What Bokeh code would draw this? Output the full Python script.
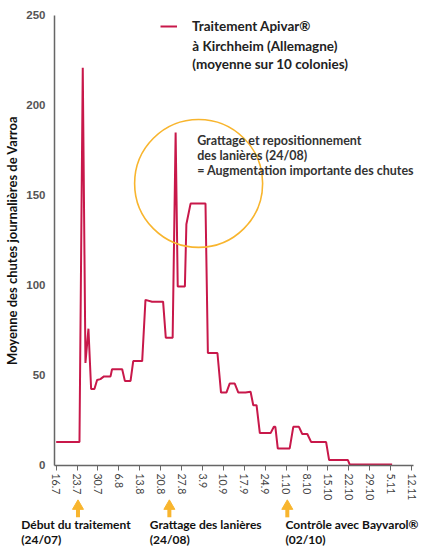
from bokeh.plotting import figure
from bokeh.models import Range1d, FixedTicker, Label, LinearAxis
from bokeh.embed import file_html
from bokeh.resources import INLINE

# ---- data (x = days since 16.7) ----
tick_days = [0, 7, 14, 21, 28, 35, 42, 49, 56, 63, 70, 77, 84, 91, 98, 105, 112, 119]
tick_labels = ["16.7", "23.7", "30.7", "6.8", "13.8", "20.8", "27.8", "3.9", "10.9",
               "17.9", "24.9", "1.10", "8.10", "15.10", "22.10", "29.10", "5.11", "12.11"]
y_ticks = [0, 50, 100, 150, 200, 250]

days = [0, 7.8, 8.9, 9.8, 10.8, 11.7, 12.8, 13.7, 14.8, 16.0, 18.2, 18.7, 22.1, 23.0,
        24.9, 25.8, 28.8, 29.9, 32.1, 35.8, 36.7, 39.0, 40.0, 40.7, 43.1, 43.6, 45.0,
        50.0, 50.8, 54.0, 55.2, 57.0, 58.1, 59.8, 61.0, 63.4, 65.1, 66.0, 67.1, 68.2,
        71.8, 72.9, 73.4, 74.2, 78.2, 79.4, 81.3, 82.4, 84.1, 85.4, 90.4, 91.4, 97.7,
        98.3, 112.5]
drops = [13, 13, 221, 57, 76, 42.5, 42.5, 47.5, 48, 49.5, 49.5, 53.5, 53.5, 47,
         47, 58, 58, 92, 91, 91, 71, 71, 185, 99.5, 99.5, 134, 145.5,
         145.5, 62.5, 62.5, 40.5, 40.5, 45.5, 45.5, 40.5, 40.5, 41, 33.5, 33.5, 18,
         18, 21.5, 21.5, 9.5, 9.5, 21.5, 21.5, 17.5, 17.5, 13, 13, 3, 3,
         0.5, 0.5]

legend_lines = ["Traitement Apivar®", "à Kirchheim (Allemagne)", "(moyenne sur 10 colonies)"]
note_lines = ["Grattage et repositionnement", "des lanières (24/08)",
              "= Augmentation importante des chutes"]
event_days = [7.3, 37.9, 77.4]
event_titles = ["Début du traitement", "Grattage des lanières", "Contrôle avec Bayvarol®"]
event_dates = ["(24/07)", "(24/08)", "(02/10)"]

# ---- annotation placement (data units) ----
circle_center = (47.7, 156.7)
legend_text_x = 45.6
legend_text_y = [233.3, 222.8]
note_x = 47.2
note_y = [180.6, 172.2, 163.9]
event_text_x = [-11.7, 31.35, 76.8]
event_text_y = [-32.6, -41.3]
arrow_head_y = -22.6
arrow_stem = (-24.2, -28.8)

RED = "#C8184A"
ORANGE = "#F8B52E"
FONT = "Lato"
W, H = 421, 546

p = figure(width=W, height=H, output_backend="svg", toolbar_location=None,
           x_range=Range1d(-18.65, 122.34), y_range=Range1d(-45.0, 258.33),
           x_axis_location=None, y_axis_location=None, min_border=0)
p.min_border_left = 0
p.min_border_right = 0
p.min_border_top = 0
p.min_border_bottom = 0
p.outline_line_color = None
p.grid.visible = False

p.line(days, drops, line_color=RED, line_width=2, legend_label=legend_lines[0])

# circle highlight
p.scatter([circle_center[0]], [circle_center[1]], marker="circle", size=128,
          fill_alpha=0, line_color=ORANGE, line_width=1.6)

# ---- axes (placed at data locations) ----
yax = LinearAxis(fixed_location=-0.57, bounds=(0, 250))
yax.ticker = FixedTicker(ticks=y_ticks)
yax.major_tick_out = 0
yax.major_tick_in = 0
yax.minor_tick_out = 0
yax.minor_tick_in = 0
yax.axis_line_color = "#666666"
yax.axis_line_width = 1.5
yax.major_label_text_font = "Liberation Sans"
yax.major_label_text_font_style = "bold"
yax.major_label_text_font_size = "11.5px"
yax.major_label_text_color = "#555555"
yax.major_label_standoff = 9
yax.axis_label = "Moyenne des chutes journalières de Varroa"
yax.axis_label_text_font = FONT
yax.axis_label_text_font_style = "bold"
yax.axis_label_text_font_size = "13px"
yax.axis_label_text_color = "#111111"
yax.axis_label_standoff = 3
p.add_layout(yax, "left")

xax = LinearAxis(fixed_location=0, bounds=(-0.57, 119.67))
xax.ticker = FixedTicker(ticks=tick_days)
xax.major_label_overrides = {d: l for d, l in zip(tick_days, tick_labels)}
xax.major_label_orientation = "vertical"
xax.major_tick_out = 5
xax.major_tick_in = 0
xax.minor_tick_out = 0
xax.minor_tick_in = 0
xax.axis_line_color = "#666666"
xax.axis_line_width = 1.5
xax.major_tick_line_color = "#666666"
xax.major_label_text_font = FONT
xax.major_label_text_font_size = "10.5px"
xax.major_label_text_color = "#444444"
xax.major_label_standoff = 3
p.add_layout(xax, "below")

# ---- legend ----
lg = p.legend[0]
lg.location = (160, H - 36)
lg.padding = 0
lg.margin = 0
lg.spacing = 0
lg.border_line_color = None
lg.background_fill_alpha = 0
lg.glyph_width = 17
lg.glyph_height = 20
lg.label_height = 20
lg.label_standoff = 15
lg.label_text_font = FONT
lg.label_text_font_style = "bold"
lg.label_text_font_size = "13.5px"
lg.label_text_color = "#222222"

for txt, yv in zip(legend_lines[1:], legend_text_y):
    p.add_layout(Label(x=legend_text_x, y=yv, text=txt, text_font=FONT, text_font_style="bold",
                       text_font_size="13.5px", text_color="#222222", text_baseline="middle"))

for txt, yv in zip(note_lines, note_y):
    p.add_layout(Label(x=note_x, y=yv, text=txt, text_font=FONT, text_font_style="bold",
                       text_font_size="12.5px", text_color="#333333", text_baseline="middle"))

# ---- events below the axis ----
p.segment(x0=event_days, y0=[arrow_stem[0]] * 3, x1=event_days, y1=[arrow_stem[1]] * 3,
          line_color=ORANGE, line_width=4)
p.scatter(event_days, [arrow_head_y] * 3, marker="triangle", size=11,
          fill_color=ORANGE, line_color=ORANGE)
for tx, t1, t2 in zip(event_text_x, event_titles, event_dates):
    p.add_layout(Label(x=tx, y=event_text_y[0], text=t1, text_font=FONT, text_font_style="bold",
                       text_font_size="12px", text_color="#111111", text_baseline="middle"))
    p.add_layout(Label(x=tx, y=event_text_y[1], text=t2, text_font=FONT, text_font_style="bold",
                       text_font_size="12px", text_color="#111111", text_baseline="middle"))

open("out.html", "w").write(file_html(p, INLINE))
